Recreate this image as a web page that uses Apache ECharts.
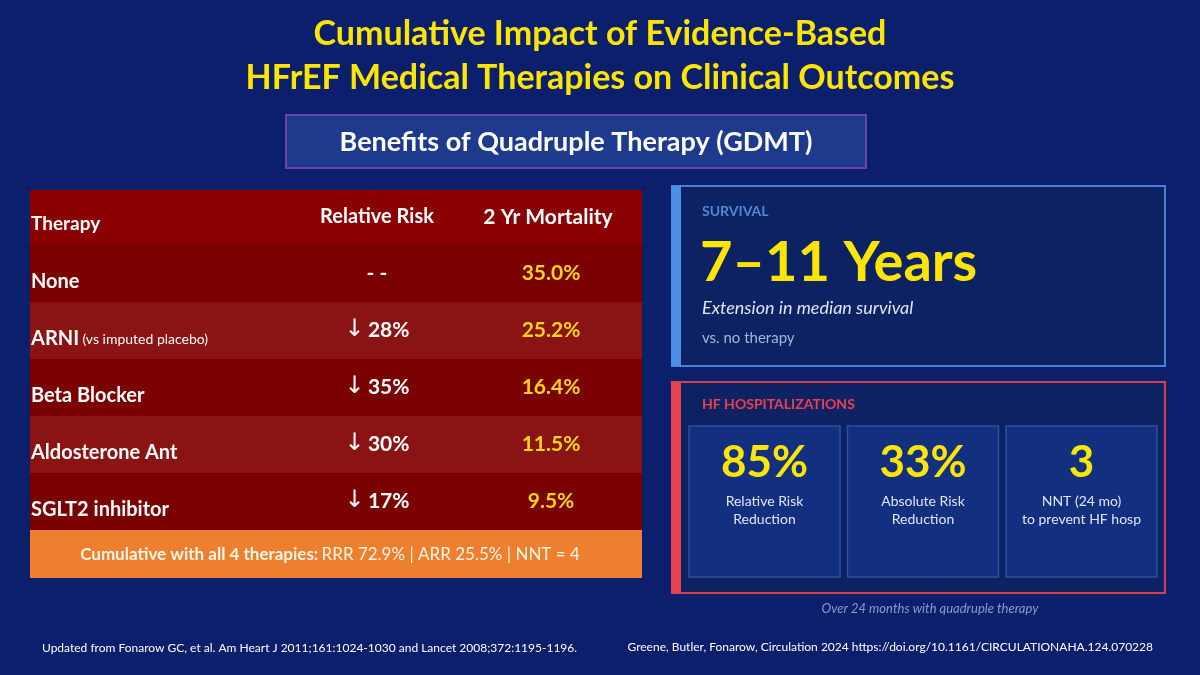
<!DOCTYPE html>
<html><head><meta charset="utf-8">
<script src="https://cdn.jsdelivr.net/npm/echarts@6/dist/echarts.min.js"></script>
<style>html,body{margin:0;padding:0;background:#0b1f6c;}#c{width:1200px;height:675px;}</style>
</head><body><div id="c"></div>
<script>
var titleLines = ['Cumulative Impact of Evidence-Based', 'HFrEF Medical Therapies on Clinical Outcomes'];
var subtitle = 'Benefits of Quadruple Therapy (GDMT)';
var tableHeaders = ['Therapy', 'Relative Risk', '2 Yr Mortality'];
var therapies = ['None', 'ARNI', 'Beta Blocker', 'Aldosterone Ant', 'SGLT2 inhibitor'];
var therapyNotes = ['', '(vs imputed placebo)', '', '', ''];
var relativeRisk = [null, 28, 35, 30, 17];
var mortality = [35.0, 25.2, 16.4, 11.5, 9.5];
var cumulativeLabel = 'Cumulative with all 4 therapies:';
var cumulativeRRR = 72.9, cumulativeARR = 25.5, cumulativeNNT = 4;
var survivalValue = '7\u201311 Years';
var hfValues = ['85%', '33%', '3'];
var hfLabels = [['Relative Risk', 'Reduction'], ['Absolute Risk', 'Reduction'], ['NNT (24 mo)', 'to prevent HF hosp']];
var footLeft = 'Updated from Fonarow GC, et al. Am Heart J 2011;161:1024-1030 and Lancet 2008;372:1195-1196.';
var footRight = 'Greene, Butler, Fonarow, Circulation 2024 https://doi.org/10.1161/CIRCULATIONAHA.124.070228';

var F = 'Lato, "Open Sans", sans-serif';
var YEL = '#ffe500';
var g = [];
function txt(x, y, text, o) {
  o = o || {};
  g.push({type: 'text', x: x, y: y, style: Object.assign({text: text, fill: '#ffffff', font: (o.font || 'bold 20px ' + F), align: o.align || 'left', verticalAlign: 'middle'}, o.style || {}), z: 10});
}
function rect(x, y, w, h, fill, stroke, lw) {
  g.push({type: 'rect', shape: {x: x, y: y, width: w, height: h}, style: {fill: fill, stroke: stroke || null, lineWidth: lw || 0}, z: 1});
}
// titles
titleLines.forEach(function (t, i) { txt(600, 34 + i * 44, t, {align: 'center', font: 'bold 34px ' + F, style: {fill: YEL}}); });
rect(286, 115, 580, 53, '#1e3a8c', '#6b44a8', 2);
txt(576, 142, subtitle, {align: 'center', font: 'bold 27px ' + F});

// table
var tx = 30, tw = 612, headH = 55, rowH = 57;
var col1 = 377, col2 = 551;
rect(tx, 190, tw, headH, '#8a0000');
txt(31, 224, tableHeaders[0], {font: 'bold 19px ' + F});
txt(col1, 217, tableHeaders[1], {align: 'center', font: 'bold 20px ' + F});
txt(col2 - 3, 217, tableHeaders[2], {align: 'center', font: 'bold 21px ' + F});
therapies.forEach(function (name, i) {
  var y0 = 190 + headH + i * rowH;
  rect(tx, y0, tw, rowH, i % 2 === 1 ? '#8a1313' : '#7a0000');
  var label = therapyNotes[i] ? '{b|' + name + '} {n|' + therapyNotes[i] + '}' : '{b|' + name + '}';
  g.push({type: 'text', x: 31, y: y0 + 37, z: 10, style: {text: label, verticalAlign: 'middle', rich: {
    b: {font: 'bold 20px ' + F, fill: '#fff'}, n: {font: '14px ' + F, fill: '#fff'}}}});
  if (relativeRisk[i] == null) {
    txt(col1, y0 + 28, '- -', {align: 'center', font: 'bold 21px ' + F});
  } else {
    g.push({type: 'text', x: col1, y: y0 + 28, z: 10, style: {align: 'center', verticalAlign: 'middle',
      text: '{a|\u2193} {b|' + relativeRisk[i] + '%}',
      rich: {a: {font: '24px "DejaVu Sans", sans-serif', fill: '#fff'}, b: {font: 'bold 21px ' + F, fill: '#fff'}}}});
  }
  txt(col2, y0 + 28, mortality[i].toFixed(1) + '%', {align: 'center', font: 'bold 21px ' + F, style: {fill: '#ffd51a'}});
});
var cy = 190 + headH + therapies.length * rowH;
rect(tx, cy, tw, 48, '#ee7f2f');
g.push({type: 'text', x: 330, y: cy + 25, z: 10, style: {align: 'center', verticalAlign: 'middle',
  text: '{b|' + cumulativeLabel + '} {n|RRR ' + cumulativeRRR + '% | ARR ' + cumulativeARR + '% | NNT = ' + cumulativeNNT + '}',
  rich: {b: {font: 'bold 17px ' + F, fill: '#fff6e8'}, n: {font: '17px ' + F, fill: '#fff6e8'}}}});

// survival box
rect(672, 186, 493, 180, '#0d2262', '#4a7fd6', 2);
rect(671, 186, 10, 180, '#4b8fe6');
txt(702, 211, 'SURVIVAL', {font: 'bold 14px ' + F, style: {fill: '#4f86d9'}});
txt(700, 263, survivalValue, {font: 'bold 56px ' + F, style: {fill: YEL}});
txt(702, 308, 'Extension in median survival', {font: 'italic 18px ' + F, style: {fill: '#dde5f7'}});
txt(702, 338, 'vs. no therapy', {font: '15px ' + F, style: {fill: '#a5b4dc'}});

// HF box
rect(672, 382, 493, 211, '#0d2262', '#d6404e', 2);
rect(671, 382, 10, 211, '#e5434f');
txt(702, 404, 'HF HOSPITALIZATIONS', {font: 'bold 14px ' + F, style: {fill: '#e8414f'}});
hfValues.forEach(function (v, i) {
  var x0 = 689 + i * 158.5;
  rect(x0, 426, 151, 151, '#132f80', '#2e4f9e', 1.5);
  txt(x0 + 75.5, 463, v, {align: 'center', font: 'bold 44px ' + F, style: {fill: YEL}});
  txt(x0 + 75.5, 501, hfLabels[i][0], {align: 'center', font: '14px ' + F, style: {fill: '#dfe6f7'}});
  txt(x0 + 75.5, 519, hfLabels[i][1], {align: 'center', font: '14px ' + F, style: {fill: '#dfe6f7'}});
});
txt(930, 609, 'Over 24 months with quadruple therapy', {align: 'center', font: 'italic 13px ' + F, style: {fill: '#8b9bcc'}});

// footer
txt(42, 648, footLeft, {font: '12px ' + F});
txt(1153, 647, footRight, {align: 'right', font: '12px ' + F});

var chart = echarts.init(document.getElementById('c'), null, {renderer: 'canvas'});
chart.setOption({backgroundColor: '#0b1f6c', animation: false, graphic: {elements: g}});
</script></body></html>
